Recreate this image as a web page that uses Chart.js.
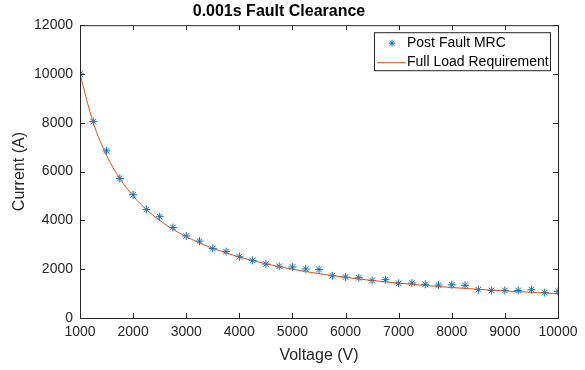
<!DOCTYPE html>
<html>
<head>
<meta charset="utf-8">
<script src="https://cdn.jsdelivr.net/npm/chart.js@4/dist/chart.umd.min.js"></script>
<style>
  html, body { margin: 0; padding: 0; background: #fff; }
  #wrap { width: 585px; height: 370px; }
</style>
</head>
<body>
<div id="wrap"><canvas id="mrcChart"></canvas></div>
<script>
// voltage steps (V)
const voltages = [1000, 1250, 1500, 1750, 2000, 2250, 2500, 2750, 3000, 3250, 3500, 3750,
  4000, 4250, 4500, 4750, 5000, 5250, 5500, 5750, 6000, 6250, 6500, 6750, 7000, 7250,
  7500, 7750, 8000, 8250, 8500, 8750, 9000, 9250, 9500, 9750, 10000];

// post fault MRC (A)
const postFaultMrc = [10000, 8050, 6850, 5720, 5050, 4450, 4150, 3710, 3360, 3150, 2850, 2720,
  2510, 2360, 2210, 2120, 2090, 2010, 1990, 1730, 1680, 1650, 1540, 1570, 1420, 1430,
  1380, 1350, 1360, 1340, 1160, 1130, 1130, 1130, 1160, 1040, 1090];

// full load requirement (A)
const fullLoad = [10000, 8000, 6667, 5714, 5000, 4444, 4000, 3636, 3333, 3077, 2857, 2667,
  2500, 2353, 2222, 2105, 2000, 1905, 1818, 1739, 1667, 1600, 1538, 1481, 1429, 1379,
  1333, 1290, 1250, 1212, 1176, 1143, 1111, 1081, 1053, 1026, 1000];

const xTicks = [1000, 2000, 3000, 4000, 5000, 6000, 7000, 8000, 9000, 10000];
const yTicks = [0, 2000, 4000, 6000, 8000, 10000, 12000];

const axisColor = '#262626';
const blue = '#0072BD';
const orange = '#D95319';
const fontFamily = '"Liberation Sans", Arial, sans-serif';

// closed box with inward tick marks, matlab style
const boxPlugin = {
  id: 'boxPlugin',
  afterDraw(chart) {
    const { ctx, chartArea: a, scales } = chart;
    ctx.save();
    ctx.strokeStyle = axisColor;
    ctx.lineWidth = 1;
    ctx.beginPath();
    ctx.rect(a.left + 0.5, a.top + 0.5, a.right - a.left, a.bottom - a.top);
    ctx.stroke();
    const len = 5;
    ctx.beginPath();
    xTicks.forEach(v => {
      const px = Math.round(scales.x.getPixelForValue(v)) + 0.5;
      ctx.moveTo(px, a.bottom); ctx.lineTo(px, a.bottom - len);
      ctx.moveTo(px, a.top); ctx.lineTo(px, a.top + len);
    });
    yTicks.forEach(v => {
      const py = Math.round(scales.y.getPixelForValue(v)) + 0.5;
      ctx.moveTo(a.left, py); ctx.lineTo(a.left + len, py);
      ctx.moveTo(a.right, py); ctx.lineTo(a.right - len, py);
    });
    ctx.stroke();
    ctx.restore();
  }
};

// legend box in the upper right corner of the axes
const legendPlugin = {
  id: 'insideLegend',
  afterDraw(chart) {
    const { ctx, chartArea: a } = chart;
    const ds = chart.data.datasets;
    const w = 176, h = 38;
    const x0 = a.right - 8 - w, y0 = a.top + 7;
    ctx.save();
    ctx.fillStyle = '#fff';
    ctx.fillRect(x0, y0, w, h);
    ctx.strokeStyle = axisColor;
    ctx.lineWidth = 1;
    ctx.strokeRect(x0 + 0.5, y0 + 0.5, w, h);
    ctx.font = '14px ' + fontFamily;
    ctx.textBaseline = 'middle';
    ctx.fillStyle = '#000';
    const row1 = y0 + 11, row2 = y0 + 30;
    ctx.strokeStyle = blue;
    Chart.helpers.drawPoint(ctx, {
      pointStyle: 'star', radius: 3.5, rotation: 0, borderWidth: 1
    }, x0 + 18, row1);
    ctx.fillStyle = '#000';
    ctx.fillText(ds[0].label, x0 + 33, row1);
    ctx.strokeStyle = orange;
    ctx.beginPath();
    ctx.moveTo(x0 + 3, row2 + 0.5);
    ctx.lineTo(x0 + 32, row2 + 0.5);
    ctx.stroke();
    ctx.fillText(ds[1].label, x0 + 33, row2);
    ctx.restore();
  }
};

new Chart(document.getElementById('mrcChart'), {
  type: 'scatter',
  data: {
    datasets: [{
      label: 'Post Fault MRC',
      data: voltages.map((v, i) => ({ x: v, y: postFaultMrc[i] })),
      pointStyle: 'star',
      pointRadius: 4,
      pointBorderWidth: 1,
      borderColor: blue,
      backgroundColor: blue,
      order: 1
    }, {
      label: 'Full Load Requirement',
      data: voltages.map((v, i) => ({ x: v, y: fullLoad[i] })),
      showLine: true,
      cubicInterpolationMode: 'monotone',
      pointRadius: 0,
      borderColor: orange,
      borderWidth: 1,
      order: 0
    }]
  },
  options: {
    responsive: true,
    maintainAspectRatio: false,
    animation: false,
    layout: { padding: { top: 0, right: 27, bottom: 0, left: 0 } },
    plugins: {
      legend: { display: false },
      tooltip: { enabled: false },
      title: {
        display: true,
        text: '0.001s Fault Clearance',
        color: '#000',
        font: { family: fontFamily, size: 16, weight: 'bold' },
        padding: { top: 2, bottom: 4 }
      }
    },
    scales: {
      x: {
        type: 'linear',
        min: 1000,
        max: 10000,
        afterBuildTicks: s => { s.ticks = xTicks.map(v => ({ value: v })); },
        afterFit: s => { s.height = 52; },
        grid: { display: false, drawTicks: false },
        border: { display: true, color: axisColor },
        ticks: {
          color: '#262626',
          padding: 6,
          maxRotation: 0,
          font: { family: fontFamily, size: 14 },
          callback: v => String(v)
        },
        title: {
          display: true,
          text: 'Voltage (V)',
          color: '#262626',
          font: { family: fontFamily, size: 16 },
          padding: { top: 0, bottom: 5 }
        }
      },
      y: {
        min: 0,
        max: 12000,
        afterBuildTicks: s => { s.ticks = yTicks.map(v => ({ value: v })); },
        afterFit: s => { s.width = 80; },
        grid: { display: false, drawTicks: false },
        border: { display: true, color: axisColor },
        ticks: {
          color: '#262626',
          padding: 7,
          font: { family: fontFamily, size: 14 },
          callback: v => String(v)
        },
        title: {
          display: true,
          text: 'Current (A)',
          color: '#262626',
          font: { family: fontFamily, size: 16 },
          padding: { top: 10, bottom: 0 }
        }
      }
    }
  },
  plugins: [boxPlugin, legendPlugin]
});
</script>
</body>
</html>
